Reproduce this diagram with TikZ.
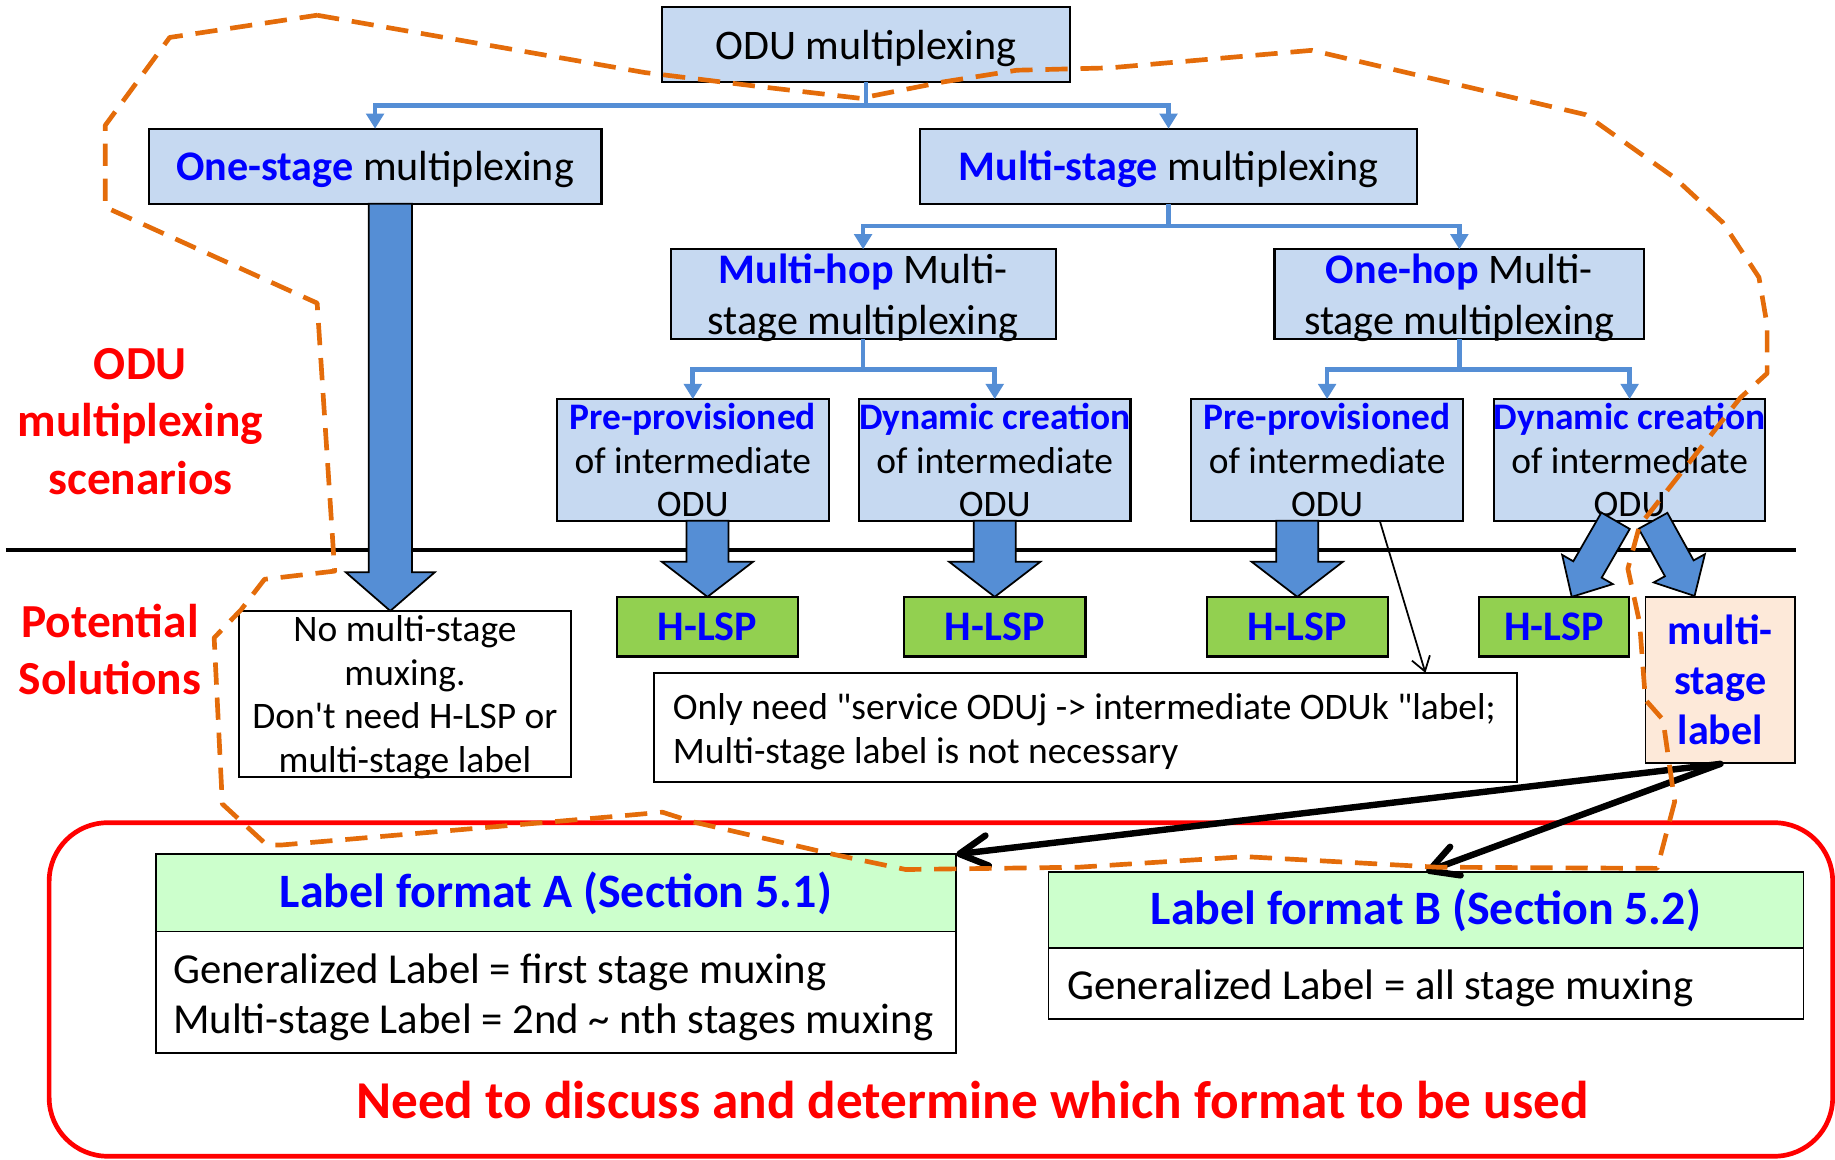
\documentclass[tikz,border=0pt]{standalone}
\usepackage{fontspec}
\setmainfont{Carlito}
\usepackage{tikz}
\usetikzlibrary{arrows.meta,positioning,calc}
\definecolor{boxblue}{HTML}{C6D9F1}
\definecolor{linkblue}{HTML}{558ED5}
\definecolor{hiblue}{HTML}{0000FF}
\definecolor{lspgreen}{HTML}{92D050}
\definecolor{labelpeach}{HTML}{FDE9D9}
\definecolor{headgreen}{HTML}{CCFFCC}
\definecolor{scopeorange}{HTML}{E46C0A}
\definecolor{alertred}{HTML}{FF0000}

\newcommand{\szbig}{\fontsize{36pt}{43pt}\selectfont}
\newcommand{\szbody}{\fontsize{36.5pt}{43pt}\selectfont}
\newcommand{\szmid}{\fontsize{32pt}{37.5pt}\selectfont}
\newcommand{\szhead}{\fontsize{41pt}{49pt}\selectfont}
\newcommand{\szside}{\fontsize{40.5pt}{49pt}\selectfont}
\newcommand{\szneed}{\fontsize{45.5pt}{54pt}\selectfont}
\newcommand{\hl}[1]{\textcolor{hiblue}{\textbf{#1}}}
\newcommand{\topstrut}[1]{\rule{0pt}{#1}}
% block arrow: start, tip, half shaft, half head, head length
\newcommand{\fatarrow}[5]{%
  \coordinate (fa-s) at #1;
  \coordinate (fa-t) at #2;
  \coordinate (fa-n) at ($(fa-t)!#5!(fa-s)$);
  \draw[fatarr] ($(fa-s)!#3!90:(fa-t)$) -- ($(fa-n)!#3!90:(fa-t)$) -- ($(fa-n)!#4!90:(fa-t)$) -- (fa-t)
    -- ($(fa-n)!#4!-90:(fa-t)$) -- ($(fa-n)!#3!-90:(fa-t)$) -- ($(fa-s)!#3!-90:(fa-t)$) -- cycle;
}

\begin{document}
\begin{tikzpicture}[x=1pt, y=-1pt,
  box/.style={draw, line width=1.8pt, fill=boxblue, align=center, inner sep=0pt, outer sep=0pt, text depth=0pt, font=\szbig},
  subbox/.style={box, font=\szmid, minimum width=232pt, minimum height=104pt},
  lsp/.style={draw, line width=1.8pt, fill=lspgreen, minimum height=51pt, font=\szbig\bfseries, text=hiblue, text depth=0pt, inner sep=0pt, outer sep=0pt},
  note/.style={draw, line width=1.5pt, fill=white, inner sep=0pt, outer sep=0pt, font=\szmid},
  fmthead/.style={draw, line width=1.5pt, fill=headgreen, font=\szhead\bfseries, text=hiblue, inner sep=0pt, outer sep=0pt},
  redtext/.style={font=\szside\bfseries, text=alertred, align=center},
  tree/.style={draw=linkblue, line width=4pt, -{Triangle[length=13pt,width=15pt]}},
  fatarr/.style={draw=black, line width=1.5pt, fill=linkblue, line join=miter},
  pointer/.style={line width=5.5pt, line cap=round, -{Straight Barb[length=24pt,width=26pt,round]}},
  thinptr/.style={line width=1.5pt, -{Straight Barb[length=12pt,width=16pt]}},
  scopeline/.style={draw=scopeorange, line width=4pt, dash pattern=on 19pt off 11pt, line join=round}
]
  \useasboundingbox (0,0) rectangle (1568,991);

  % scenarios
  \node[box, minimum width=348pt, minimum height=64pt] (top) at (740,38) {ODU multiplexing};
  \node[box, minimum width=387pt, minimum height=64pt] (one) at (320.5,142) {\hl{One-stage} multiplexing};
  \node[box, minimum width=425pt, minimum height=64pt] (multi) at (998.5,142) {\hl{Multi-stage} multiplexing};
  \node[box, minimum width=329pt, minimum height=77pt] (mhop) at (737.5,251.5) {\hl{Multi-hop} Multi-\\stage multiplexing};
  \node[box, minimum width=316pt, minimum height=77pt] (ohop) at (1247,251.5) {\hl{One-hop} Multi-\\stage multiplexing};
  \node[subbox] (pre1) at (592,393) {\hl{Pre-provisioned}\\of intermediate\\ODU};
  \node[subbox] (dyn1) at (850,393) {\hl{Dynamic creation}\\of intermediate\\ODU};
  \node[subbox] (pre2) at (1134,393) {\hl{Pre-provisioned}\\of intermediate\\ODU};
  \node[subbox] (dyn2) at (1392.5,393) {\hl{Dynamic creation}\\of intermediate\\ODU};

  \draw[tree] (top.south) -- ++(0,20) -| (one.north);
  \draw[tree] (top.south) -- ++(0,20) -| (multi.north);
  \draw[tree] (multi.south) -- ++(0,19) -| (mhop.north);
  \draw[tree] (multi.south) -- ++(0,19) -| (ohop.north);
  \draw[tree] (mhop.south) -- ++(0,26) -| (pre1.north);
  \draw[tree] (mhop.south) -- ++(0,26) -| (dyn1.north);
  \draw[tree] (ohop.south) -- ++(0,26) -| (pre2.north);
  \draw[tree] (ohop.south) -- ++(0,26) -| (dyn2.north);

  \node[redtext] (scen) at (120,360) {ODU\\multiplexing\\scenarios};
  \draw[line width=3.5pt] (5,470) -- (1535,470);
  \node[redtext] (sol) at (94,555) {Potential\\Solutions};

  % solutions
  \node[lsp, minimum width=155pt] (hlsp1) at (604.5,535.5) {H-LSP};
  \node[lsp, minimum width=155pt] (hlsp2) at (850,535.5) {H-LSP};
  \node[lsp, minimum width=155pt] (hlsp3) at (1108.5,535.5) {H-LSP};
  \node[lsp, minimum width=128pt] (hlsp4) at (1328,535.5) {H-LSP};
  \node[draw, line width=1.5pt, fill=labelpeach, minimum width=128pt, minimum height=142pt, inner sep=0pt,
        font=\szbig\bfseries, text=hiblue, align=center] (mslabel) at (1470,581) {multi-\\stage\\label};
  \node[note, minimum width=284pt, minimum height=142pt, align=center, text depth=0pt] (nomux) at (346,593)
    {No multi-stage\\muxing.\\Don\textquotesingle t need H-LSP or\\multi-stage label};
  \node[note, minimum height=93pt, text width=705pt, inner xsep=16pt, align=flush left] (onlyneed) at (927.5,621.5)
    {\mbox{\topstrut{29pt}Only need \textquotedbl service ODUj -> intermediate ODUk \textquotedbl label;}\\\mbox{Multi-stage label is not necessary}};

  \fatarrow{($(one.south)+(13,0)$)}{($(one.south |- nomux.north)+(13,0)$)}{18.5pt}{38pt}{33pt}
  \fatarrow{(pre1.south -| hlsp1.north)}{(hlsp1.north)}{18pt}{39pt}{30pt}
  \fatarrow{(dyn1.south -| hlsp2.north)}{(hlsp2.north)}{18pt}{39pt}{30pt}
  \fatarrow{(pre2.south -| hlsp3.north)}{(hlsp3.north)}{18pt}{39pt}{30pt}
  \fatarrow{($(dyn2.south)+(-12,0)$)}{($(hlsp4.north)+(15,0)$)}{14pt}{25pt}{27pt}
  \fatarrow{($(dyn2.south)+(20,0)$)}{($(mslabel.north)+(-22,0)$)}{14pt}{25pt}{27pt}

  \draw[thinptr] ($(pre2.south)+(45,0)$) -- ($(onlyneed.north)+(290.5,0)$);

  % label formats
  \draw[alertred, line width=4pt, rounded corners=50pt] (42,703) rectangle (1566,988);
  \node[fmthead, minimum width=684pt, minimum height=66pt] (fmtAhead) at (475,763) {Label format A (Section 5.1)};
  \node[note, font=\szbody, text width=654pt, inner xsep=15pt, minimum height=104pt, align=flush left, below=0pt of fmtAhead] (fmtAbody)
    {\mbox{\topstrut{34pt}Generalized Label = first stage muxing}\\\mbox{Multi-stage Label = 2nd \textasciitilde{} nth stages muxing}};
  \node[fmthead, minimum width=645pt, minimum height=65pt] (fmtBhead) at (1218.5,777.5) {Label format B (Section 5.2)};
  \node[note, font=\szbody, text width=613pt, inner xsep=16pt, minimum height=61pt, align=flush left, below=0pt of fmtBhead] (fmtBbody)
    {\mbox{\topstrut{34pt}Generalized Label = all stage muxing}};
  \node[font=\szneed\bfseries, text=alertred] (need) at (831,940) {Need to discuss and determine which format to be used};

  \draw[pointer] (mslabel.south) -- (fmtAhead.north east);
  \draw[pointer] (mslabel.south) -- (fmtBhead.north);

  % scope of multi-stage label
  \draw[scopeline] (271,13) -- (551,62) -- (649,74) -- (735,84) -- (806,70) -- (869,60) -- (948,58) -- (1121,43)
    -- (1355,98) -- (1431,152) -- (1472,190) -- (1503,237) -- (1510,278) -- (1510,319) -- (1487,340) -- (1401,449)
    -- (1391,486) -- (1401,532) -- (1406,598) -- (1421,615) -- (1431,685) -- (1416,742) -- (1228,741) -- (1064,732)
    -- (922,741) -- (774,743) -- (712,730) -- (591,702) -- (566,694) -- (521,698) -- (241,722) -- (228,722)
    -- (190,687) -- (183,545) -- (206,521) -- (226,495) -- (286,488) -- (271,259) -- (90,177) -- (90,107)
    -- (145,32) -- cycle;
\end{tikzpicture}
\end{document}
